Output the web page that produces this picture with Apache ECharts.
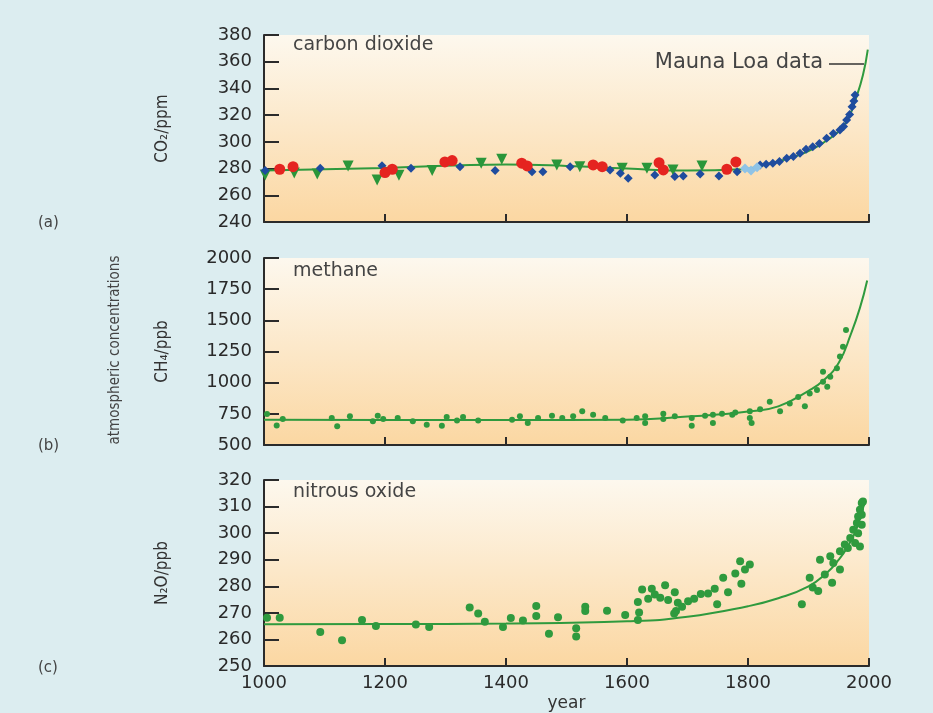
<!DOCTYPE html>
<html>
<head>
<meta charset="utf-8">
<script src="https://cdn.jsdelivr.net/npm/echarts@6/dist/echarts.min.js"></script>
<style>
  html, body { margin: 0; padding: 0; background: #dcedf0; }
  #chart { width: 933px; height: 713px; }
</style>
</head>
<body>
<div id="chart"></div>
<script>
// x axis: years
const yearTicks = [1000, 1200, 1400, 1600, 1800, 2000]

// (a) carbon dioxide, ppm
const co2Red = [[1026,279.5],[1048,281.4],[1200,277],[1212,279.5],[1299,285],[1311,286],[1426,284],[1435,282],
  [1544,282.7],[1559,281.4],[1653,284.4],[1660,279],[1765,279.5],[1780,285]]
const co2Blue = [[1002,278.5],[1093,280.2],[1195,282.2],[1243,280.2],[1324,281.4],[1382,278.5],[1443,277.7],[1461,277.7],
  [1506,281.4],[1572,279],[1589,276.5],[1602,272.8],[1646,275.2],[1679,274],[1693,274.5],[1721,276],[1752,274.5],
  [1782,277.7],[1820,282.7],[1830,283.2],[1841,284],[1852,285.3],[1864,287.7],[1875,289],[1886,291.5],[1896,294.5],
  [1907,296.4],[1918,298.8],[1930,302.7],[1941,306.2],[1952,308.8],[1958,311.5],[1963,316.3],[1968,320.4],
  [1972,326.3],[1975,330.6],[1977,335]]
const co2Green = [[1002,275.2],[1050,276.7],[1088,276],[1139,282],[1187,271.5],[1223,275],[1278,278.5],[1359,284],
  [1393,287],[1484,282.7],[1522,281.4],[1592,280.2],[1633,280.2],[1676,279],[1724,282]]
const co2LightBlue = [[1795,280],[1805,278.5],[1815,281]]
const co2Fit = [[1000,278.5],[1200,280.5],[1400,283],[1500,282],[1600,280],[1700,278.5],[1790,279.5],[1830,283],
  [1870,288],[1900,293],[1930,301],[1950,308],[1965,317],[1978,332],[1990,350],[1998,369]]

// (b) methane, ppb
const ch4Points = [[1005,749],[1021,656],[1031,708],[1112,716],[1121,650],[1142,730],[1180,690],[1188,735],[1197,708],
  [1221,716],[1246,690],[1269,663],[1294,655],[1302,725],[1319,697],[1329,725],[1354,697],[1410,703],[1423,730],
  [1436,676],[1453,716],[1476,735],[1493,716],[1511,730],[1526,770],[1544,743],[1564,716],[1593,697],[1616,716],
  [1630,730],[1630,676],[1660,751],[1660,708],[1679,730],[1707,716],[1707,655],[1729,735],[1742,676],[1742,743],
  [1757,751],[1774,743],[1779,761],[1803,770],[1803,716],[1806,676],[1820,786],[1836,847],[1853,770],[1869,833],
  [1883,886],[1894,811],[1902,914],[1914,941],[1924,1008],[1924,1088],[1931,968],[1936,1048],[1947,1115],
  [1952,1209],[1957,1289],[1962,1423]]
const ch4Fit = [[1000,703],[1200,700],[1400,700],[1600,703],[1700,728],[1750,745],[1800,768],[1850,810],[1900,935],
  [1925,1020],[1950,1160],[1970,1390],[1985,1600],[1997,1820]]

// (c) nitrous oxide, ppb
const n2oPoints = [[1005,268.2],[1026,268.2],[1093,262.8],[1129,259.7],[1162,267.3],[1185,265.1],[1251,265.6],
  [1273,264.7],[1340,272],[1354,269.8],[1365,266.7],[1395,264.7],[1408,268.1],[1428,267.1],[1450,272.6],
  [1450,268.8],[1471,262.1],[1486,268.3],[1516,264.2],[1516,261.1],[1531,272.3],[1531,270.7],[1567,270.8],
  [1597,269.2],[1618,274.1],[1620,270.1],[1618,267.3],[1625,278.8],[1641,279.1],[1635,275.3],[1646,276.9],
  [1663,280.4],[1655,275.7],[1668,274.8],[1679,277.8],[1684,273.8],[1681,270.7],[1678,269.8],[1691,272.3],
  [1701,274.4],[1711,275.3],[1722,277.1],[1734,277.3],[1749,273.2],[1745,279.1],[1759,283.2],[1767,277.8],
  [1779,284.8],[1789,281],[1795,286.3],[1803,288.2],[1787,289.4],[1889,273.2],[1902,283.2],[1907,279.5],
  [1916,278.2],[1919,290],[1927,284.4],[1936,291.3],[1939,281.3],[1941,288.8],[1952,293.2],[1952,286.3],
  [1960,295.7],[1965,294.4],[1969,298.2],[1974,301.3],[1977,296.3],[1980,303.8],[1982,306.3],[1982,300],
  [1985,308.8],[1985,295],[1988,311.3],[1988,303.2],[1988,306.9],[1990,311.9]]
const n2oFit = [[1000,265.7],[1200,265.8],[1400,266],[1600,266.8],[1700,268.5],[1800,272.5],[1850,275.5],
  [1900,280],[1930,285],[1950,290],[1965,295],[1980,302],[1993,312]]

const panels = [
  { name: 'CO₂/ppm', min: 240, max: 380, interval: 20, top: 35 },
  { name: 'CH₄/ppb', min: 500, max: 2000, interval: 250, top: 258 },
  { name: 'N₂O/ppb', min: 250, max: 320, interval: 10, top: 480 }
]

const green = '#2f9a3e'
const axisColor = '#2b2b2b'
const labelFont = '"DejaVu Sans"'
const plotFill = new echarts.graphic.LinearGradient(0, 0, 0, 1, [
  { offset: 0, color: '#fdf8ee' },
  { offset: 1, color: '#fbd7a2' }
])

const grids = panels.map(p => ({
  left: 264, right: 64, top: p.top, height: 187,
  show: true, backgroundColor: plotFill, borderWidth: 0
}))

const xAxes = panels.map((p, i) => ({
  type: 'value', gridIndex: i, min: yearTicks[0], max: yearTicks[yearTicks.length - 1], interval: 200,
  axisLine: { lineStyle: { color: axisColor, width: 2 } },
  axisTick: { inside: true, length: 8, lineStyle: { color: axisColor, width: 2 } },
  axisLabel: { show: i === 2, color: '#2a2a2a', fontFamily: labelFont, fontSize: 18, margin: 8,
    formatter: v => String(v) },
  splitLine: { show: false },
  name: i === 2 ? 'year' : '', nameLocation: 'middle', nameGap: 29,
  nameTextStyle: { color: '#333', fontFamily: labelFont, fontSize: 17 }
}))

const yAxes = panels.map((p, i) => ({
  type: 'value', gridIndex: i, min: p.min, max: p.max, interval: p.interval,
  axisLine: { show: true, lineStyle: { color: axisColor, width: 2 } },
  axisTick: { show: true, inside: true, length: 15, lineStyle: { color: axisColor, width: 2 } },
  axisLabel: { color: '#2a2a2a', fontFamily: labelFont, fontSize: 18, margin: 12,
    formatter: v => String(v) },
  splitLine: { show: false },
  name: p.name, nameLocation: 'middle', nameRotate: 90, nameGap: 93,
  nameTextStyle: { color: '#333', fontFamily: '"DejaVu Sans Condensed"', fontSize: 17 }
}))

function scatter(data, gi, symbol, size, color, rotate) {
  return {
    type: 'scatter', xAxisIndex: gi, yAxisIndex: gi, data: data,
    symbol: symbol, symbolSize: size, symbolRotate: rotate || 0,
    itemStyle: { color: color, opacity: 1 }, silent: true, z: 3
  }
}
function fit(data, gi) {
  return {
    type: 'line', xAxisIndex: gi, yAxisIndex: gi, data: data, smooth: true, showSymbol: false,
    lineStyle: { color: green, width: 2 }, silent: true, z: 2
  }
}

const series = [
  fit(co2Fit, 0),
  scatter(co2Green, 0, 'triangle', 11, '#2a963a', 180),
  scatter(co2Blue, 0, 'diamond', 9, '#1f4c9e'),
  scatter(co2LightBlue, 0, 'diamond', 10, '#8fc3e6'),
  scatter(co2Red, 0, 'circle', 11, '#e52420'),
  fit(ch4Fit, 1),
  scatter(ch4Points, 1, 'circle', 6, green),
  fit(n2oFit, 2),
  scatter(n2oPoints, 2, 'circle', 8, green)
]

const txt = (x, y, text, size, extra) => Object.assign({
  type: 'text', x: x, y: y, silent: true,
  style: { text: text, fill: '#444', font: size + 'px "DejaVu Sans"', textVerticalAlign: 'middle' }
}, extra || {})

const graphic = [
  txt(293, 45, 'carbon dioxide', 19),
  txt(293, 271, 'methane', 19),
  txt(293, 492, 'nitrous oxide', 19),
  {
    type: 'text', x: 823, y: 63, silent: true,
    style: { text: 'Mauna Loa data', fill: '#444', font: '21px "DejaVu Sans"',
      textAlign: 'right', textVerticalAlign: 'middle' }
  },
  { type: 'line', silent: true, shape: { x1: 829, y1: 64, x2: 864, y2: 64 },
    style: { stroke: '#333', lineWidth: 1.5 } },
  txt(38, 223, '(a)', 15),
  txt(38, 446, '(b)', 15),
  txt(38, 668, '(c)', 15),
  {
    type: 'text', x: 115, y: 350, rotation: Math.PI / 2, silent: true,
    style: { text: 'atmospheric concentrations', fill: '#444', font: '15px "DejaVu Sans Condensed"',
      textAlign: 'center', textVerticalAlign: 'middle' }
  }
]

const chart = echarts.init(document.getElementById('chart'))
chart.setOption({
  backgroundColor: '#dcedf0',
  animation: false,
  grid: grids,
  xAxis: xAxes,
  yAxis: yAxes,
  series: series,
  graphic: graphic
})
</script>
</body>
</html>
